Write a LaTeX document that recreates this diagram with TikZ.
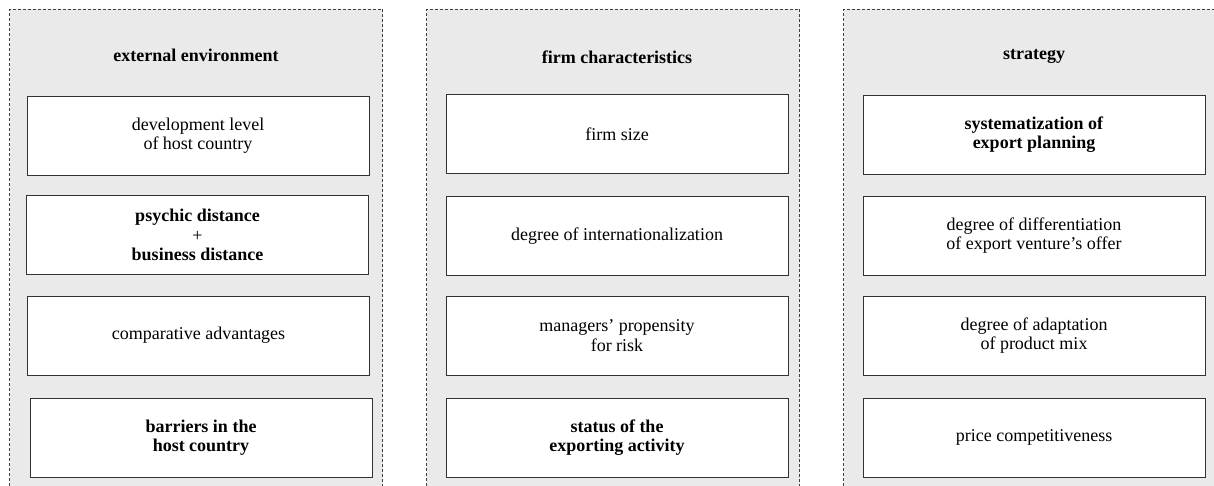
\documentclass[tikz,border=0pt]{standalone}
\usepackage{fontspec}
\setmainfont{LiberationSerif}[Extension=.ttf, UprightFont=*-Regular, BoldFont=*-Bold]
\definecolor{panelgrey}{HTML}{EAEAEA}
\definecolor{boxline}{HTML}{333333}
\begin{document}
\begin{tikzpicture}[x=1pt, y=-1pt,
    panel/.style={draw=black!75, fill=panelgrey, dash pattern=on 3pt off 2pt, line width=0.8pt,
       minimum width=373pt, minimum height=500pt, inner sep=0pt},
    title/.style={font=\fontsize{18}{20}\selectfont\bfseries},
    factor/.style={draw=boxline, fill=white, line width=1pt, minimum width=342pt,
       minimum height=79pt, align=center, inner sep=0pt, font=\fontsize{18}{19.5}\selectfont}]
   \useasboundingbox (0,0) rectangle (1214,485);
   % the three groups
   \node[panel] (envpanel) at (196,259) {};
   \node[panel] (firmpanel) at (613,259) {};
   \node[panel] (stratpanel) at (1030,259) {};
   \node[title] (envtitle) at (196,55) {external environment};
   \node[title] (firmtitle) at (617,57) {firm characteristics};
   \node[title] (strattitle) at (1034,56) {strategy};
   % external environment
   \node[factor] (devlevel) at (198,135.5) {development level\\of host country};
   \node[factor] (distance) at (197.5,235) {\textbf{psychic distance}\\+\\\textbf{business distance}};
   \node[factor] (compadv) at (198.5,335.5) {comparative advantages};
   \node[factor] (barriers) at (201,437.5) {\textbf{barriers in the}\\\textbf{host country}};
   % firm characteristics
   \node[factor] (firmsize) at (617,134) {firm size};
   \node[factor] (internat) at (617,236) {degree of internationalization};
   \node[factor] (riskprop) at (617,335.5) {managers' propensity\\for risk};
   \node[factor] (exportstatus) at (617,437.5) {\textbf{status of the}\\\textbf{exporting activity}};
   % strategy
   \node[factor] (planning) at (1034,134.5) {\textbf{systematization of}\\\textbf{export planning}};
   \node[factor] (differ) at (1034,235.5) {degree of differentiation\\of export venture's offer};
   \node[factor] (adapt) at (1034,335.5) {degree of adaptation\\of product mix};
   \node[factor] (price) at (1034,437.5) {price competitiveness};
\end{tikzpicture}
\end{document}
